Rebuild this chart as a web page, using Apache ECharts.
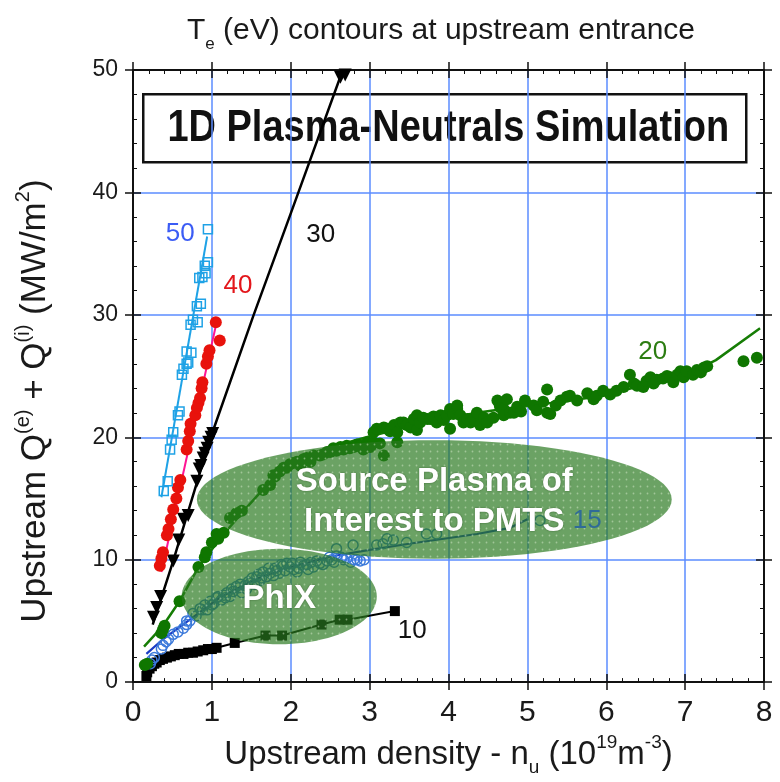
<!DOCTYPE html>
<html>
<head>
<meta charset="utf-8">
<title>Te contours at upstream entrance</title>
<script src="https://cdn.jsdelivr.net/npm/echarts@6/dist/echarts.min.js"></script>
<style>
  html, body { margin: 0; padding: 0; background: #ffffff; }
  #chart { width: 780px; height: 782px; }
</style>
</head>
<body>
<div id="chart"></div>
<script>
// Axis ticks
const xTickLabels = ['0', '1', '2', '3', '4', '5', '6', '7', '8'];
const yTickLabels = ['0', '10', '20', '30', '40', '50'];

// Te = 10 eV  [density, Q]
const te10 = [
  [0.17, 0.5], [0.18, 0.8], [0.21, 1.1], [0.24, 1.3], [0.27, 1.5], [0.30, 1.6], [0.34, 1.8],
  [0.38, 1.9], [0.43, 2.0], [0.48, 2.1], [0.53, 2.2], [0.58, 2.3], [0.64, 2.3], [0.70, 2.4],
  [0.76, 2.4], [0.82, 2.5], [0.89, 2.6], [0.95, 2.7], [1.00, 2.7], [1.06, 2.8], [1.29, 3.2],
  [1.68, 3.8], [1.89, 3.8], [2.39, 4.7], [2.62, 5.1], [2.72, 5.1], [3.32, 5.8]
];

// Te = 15 eV simulation points and fitted contour
const te15 = [
  [0.22, 1.5], [0.24, 1.8], [0.27, 2.0], [0.36, 2.7], [0.38, 3.0], [0.42, 3.3], [0.45, 3.5],
  [0.51, 3.9], [0.57, 4.1], [0.64, 4.4], [0.68, 4.7], [0.72, 5.0], [0.68, 5.0], [0.76, 5.6],
  [0.80, 5.4], [0.85, 6.0], [0.88, 5.9], [0.91, 6.3], [0.94, 5.9], [0.98, 6.6], [1.00, 6.3],
  [1.02, 6.4], [1.06, 6.9], [1.08, 7.0], [1.12, 6.7], [1.15, 7.1], [1.17, 6.9], [1.19, 7.3],
  [1.23, 7.0], [1.25, 7.6], [1.27, 7.4], [1.31, 7.8], [1.34, 7.7], [1.36, 8.0], [1.38, 7.3],
  [1.42, 7.9], [1.44, 7.6], [1.46, 8.2], [1.49, 8.1], [1.51, 8.5], [1.54, 8.0], [1.57, 8.6],
  [1.59, 8.8], [1.61, 8.3], [1.63, 8.5], [1.65, 9.0], [1.69, 8.6], [1.72, 9.3], [1.74, 8.9],
  [1.78, 8.7], [1.80, 9.3], [1.82, 9.1], [1.86, 8.9], [1.88, 9.6], [1.90, 9.5], [1.93, 9.1],
  [1.95, 9.7], [1.99, 9.4], [2.02, 9.7], [2.04, 9.2], [2.08, 9.0], [2.10, 9.3], [2.12, 9.8],
  [2.16, 9.5], [2.20, 9.6], [2.22, 9.2], [2.26, 9.8], [2.29, 9.4], [2.33, 9.9], [2.37, 9.7],
  [2.41, 9.6], [2.46, 9.9], [2.49, 10.2], [2.52, 10.0], [2.55, 9.8], [2.58, 10.3], [2.64, 10.2],
  [2.67, 10.0], [2.71, 10.1], [2.76, 9.8], [2.80, 10.0], [2.84, 10.0], [2.88, 9.9], [2.93, 10.0],
  [2.58, 10.9], [2.79, 11.2], [3.09, 11.2], [3.17, 11.3], [3.22, 11.7], [3.30, 11.6], [3.47, 11.4],
  [3.72, 12.1], [3.85, 12.1], [5.16, 13.2]
];
const te15Fit = [
  [0.17, 2.3], [0.38, 3.5], [0.72, 5.1], [1.10, 6.9], [1.55, 8.4], [2.00, 9.4], [2.54, 10.3],
  [3.00, 10.8], [3.50, 11.3], [4.36, 12.1], [4.78, 12.6], [5.00, 13.3]
];

// Te = 20 eV simulation points and fitted contour
const te20 = [
  [0.15, 1.4], [0.18, 1.5], [0.36, 4.0], [0.38, 4.3], [0.40, 4.6], [0.59, 6.6], [0.83, 9.4],
  [0.91, 10.2], [0.93, 10.6], [1.00, 11.4], [1.06, 12.1], [1.08, 11.7], [1.15, 12.2], [1.23, 13.4],
  [1.31, 13.8], [1.38, 14.0], [1.65, 15.7], [1.74, 16.1], [1.80, 16.8], [1.78, 16.9], [1.86, 17.2],
  [1.91, 17.5], [1.95, 17.5], [1.99, 17.8], [2.03, 17.9], [2.08, 18.0], [2.12, 17.7], [2.16, 18.2],
  [2.20, 18.3], [2.25, 18.0], [2.29, 18.5], [2.37, 18.5], [2.41, 18.6], [2.46, 18.8], [2.50, 18.8],
  [2.54, 19.1], [2.58, 18.9], [2.63, 19.2], [2.67, 19.0], [2.71, 19.3], [2.75, 19.1], [2.80, 19.2],
  [2.84, 19.4], [2.88, 19.3], [2.92, 19.0], [2.97, 19.6], [3.01, 19.2], [3.05, 19.6], [3.05, 20.4],
  [3.09, 20.7], [3.13, 19.5], [3.18, 18.5], [3.18, 20.8], [3.22, 20.7], [3.26, 20.5], [3.31, 21.0],
  [3.35, 19.6], [3.35, 20.4], [3.39, 21.2], [3.43, 21.2], [3.47, 21.0], [3.52, 20.8], [3.56, 21.5],
  [3.60, 20.6], [3.60, 21.8], [3.64, 21.2], [3.68, 21.6], [3.73, 21.5], [3.77, 21.5], [3.81, 21.7],
  [3.85, 21.2], [3.90, 21.8], [3.94, 21.4], [3.98, 21.8], [4.02, 20.7], [4.02, 22.3], [4.06, 21.9],
  [4.11, 22.3], [4.11, 22.6], [4.15, 21.8], [4.19, 21.2], [4.24, 21.5], [4.28, 21.2], [4.32, 21.5],
  [4.36, 22.0], [4.40, 21.0], [4.45, 21.6], [4.49, 21.2], [4.57, 21.6], [4.62, 23.0], [4.65, 22.6],
  [4.66, 22.4], [4.70, 22.3], [4.70, 21.8], [4.74, 23.1], [4.78, 22.0], [4.83, 22.0], [4.87, 22.5],
  [4.92, 22.1], [4.97, 23.0], [5.08, 22.6], [5.12, 22.2], [5.20, 22.9], [5.25, 23.9], [5.25, 22.0],
  [5.29, 21.9], [5.36, 22.6], [5.42, 23.0], [5.50, 23.3], [5.54, 23.4], [5.63, 23.0], [5.76, 23.6],
  [5.84, 23.1], [5.88, 23.4], [5.96, 23.8], [6.05, 23.5], [6.13, 23.8], [6.22, 24.1], [6.30, 25.1],
  [6.35, 24.4], [6.39, 24.2], [6.47, 24.1], [6.51, 24.6], [6.56, 24.9], [6.60, 24.4], [6.64, 24.7],
  [6.72, 24.8], [6.77, 25.0], [6.81, 24.9], [6.85, 24.5], [6.90, 25.1], [6.94, 25.4], [6.98, 24.9],
  [7.02, 25.4], [7.10, 25.1], [7.15, 25.5], [7.20, 25.3], [7.24, 25.7], [7.28, 25.8], [7.74, 26.2],
  [7.91, 26.5]
];
const te20Fit = [
  [0.14, 2.9], [0.38, 4.6], [0.59, 6.6], [0.83, 9.4], [1.15, 12.1], [1.46, 14.4], [1.74, 16.4],
  [2.06, 18.0], [2.46, 19.1], [2.96, 20.0], [3.56, 21.0], [4.36, 22.0], [4.70, 22.3], [5.30, 22.8],
  [5.97, 23.4], [6.50, 24.3], [7.05, 25.2], [7.39, 26.3], [7.95, 28.9]
];

// Te = 30 eV
const te30 = [
  [0.26, 5.3], [0.30, 6.1], [0.35, 7.0], [0.51, 9.9], [0.58, 11.6], [0.64, 13.3], [0.70, 13.6],
  [0.81, 16.4], [0.84, 17.4], [0.86, 17.7], [0.89, 18.3], [0.91, 18.7], [0.94, 19.1], [0.96, 19.6],
  [0.99, 20.0], [1.01, 20.3], [2.63, 49.4], [2.69, 49.6]
];
const te30Fit = [
  [0.25, 4.7], [0.51, 9.9], [0.98, 19.9], [1.53, 30.0], [1.99, 38.1], [2.66, 50.0]
];

// Te = 40 eV
const te40 = [
  [0.34, 9.5], [0.36, 10.1], [0.38, 10.6], [0.43, 12.0], [0.45, 12.5], [0.48, 13.3], [0.51, 14.1],
  [0.55, 15.0], [0.57, 15.9], [0.60, 16.5], [0.68, 19.0], [0.70, 19.7], [0.72, 20.5], [0.73, 21.1],
  [0.79, 21.8], [0.81, 22.4], [0.83, 22.8], [0.85, 23.2], [0.87, 24.0], [0.88, 24.5], [0.93, 26.0],
  [0.95, 26.6], [0.97, 27.1], [1.10, 27.9], [1.05, 29.4]
];
const te40Fit = [[0.36, 9.0], [1.06, 29.4]];

// Te = 50 eV
const te50 = [
  [0.39, 15.6], [0.44, 16.4], [0.47, 19.0], [0.49, 19.8], [0.51, 20.4], [0.57, 21.8], [0.59, 22.1],
  [0.62, 25.1], [0.64, 25.6], [0.68, 26.0], [0.70, 26.1], [0.68, 27.0], [0.74, 26.9], [0.73, 29.2],
  [0.76, 29.6], [0.82, 29.4], [0.81, 30.7], [0.86, 30.9], [0.84, 33.0], [0.88, 33.1], [0.92, 33.4],
  [0.91, 34.0], [0.95, 34.3], [0.95, 37.0]
];
const te50Fit = [[0.36, 15.1], [0.94, 36.4]];

// Contour labels: [density, Q, text]
const contourLabels = [
  [0.60, 36.6, '50'], [1.33, 32.4, '40'], [2.38, 36.5, '30'],
  [6.59, 27.0, '20'], [5.76, 13.2, '15'], [3.54, 4.2, '10']
];
const contourLabelColors = ['#3b5cf5', '#e3161b', '#111111', '#2c7d12', '#2f6b98', '#111111'];

// Highlighted regions: [centre density, centre Q, half-width, half-height]
const regions = [[3.82, 14.92, 3.01, 4.84], [1.854, 6.99, 1.237, 3.9]];
const regionNames = ['Source Plasma of\nInterest to PMTS', 'PhIX'];

const FONT = '"Liberation Sans", Arial, Helvetica, sans-serif';

// Dotted translucent green fill used inside the highlighted regions
function makeDotPattern() {
  const c = document.createElement('canvas');
  c.width = 7; c.height = 7;
  const g = c.getContext('2d');
  g.fillStyle = 'rgba(40,120,30,0.69)';
  g.fillRect(0, 0, 7, 7);
  g.fillStyle = 'rgba(215,235,205,0.5)';
  g.beginPath();
  g.arc(3.5, 3.5, 0.9, 0, Math.PI * 2);
  g.fill();
  return c;
}
const dotPattern = { image: makeDotPattern(), repeat: 'repeat' };

const chart = echarts.init(document.getElementById('chart'), null, { renderer: 'canvas' });

const axisLineStyle = { color: '#111', width: 2 };
const tickStyle = { color: '#111', width: 1.5 };

function xAxisDef(position, inner, extra) {
  return Object.assign({
    type: 'value', min: 0, max: 8, interval: 1, position: position,
    axisLine: { show: inner, onZero: false, lineStyle: axisLineStyle },
    axisTick: { show: true, inside: inner, length: 8, lineStyle: tickStyle },
    minorTick: { show: inner, splitNumber: 5, length: 4, lineStyle: { color: '#111', width: 1 } },
    axisLabel: { show: false },
    splitLine: { show: false }
  }, extra || {});
}
function yAxisDef(position, inner, extra) {
  return Object.assign({
    type: 'value', min: 0, max: 50, interval: 10, position: position,
    axisLine: { show: inner, onZero: false, lineStyle: axisLineStyle },
    axisTick: { show: true, inside: inner, length: 8, lineStyle: tickStyle },
    minorTick: { show: inner, splitNumber: 5, length: 4, lineStyle: { color: '#111', width: 1 } },
    axisLabel: { show: false },
    splitLine: { show: false }
  }, extra || {});
}

const option = {
  animation: false,
  backgroundColor: '#ffffff',
  title: {
    text: 'T{sub|e} (eV) contours at upstream entrance',
    left: 182, top: 4,
    textStyle: {
      fontFamily: FONT, fontSize: 30, fontWeight: 'normal', color: '#1a1a1a', lineHeight: 44,
      rich: {
        sub: { fontFamily: FONT, fontSize: 17, color: '#1a1a1a', lineHeight: 16, verticalAlign: 'bottom' }
      }
    }
  },
  grid: { left: 133, right: 16, top: 70, bottom: 92, containLabel: false },
  xAxis: [
    xAxisDef('bottom', true, {
      splitLine: { show: true, lineStyle: { color: '#5b8cff', width: 1.5 } },
      axisLabel: {
        show: true, fontFamily: FONT, fontSize: 30, color: '#1a1a1a', margin: 16,
        formatter: v => xTickLabels[Math.round(v)]
      },
      name: 'Upstream density - n{sub|u} (10{sup|19}m{sup|-3})',
      nameLocation: 'middle', nameGap: 44,
      nameTextStyle: {
        fontFamily: FONT, fontSize: 33, color: '#1a1a1a', lineHeight: 44,
        rich: {
          sub: { fontFamily: FONT, fontSize: 19, color: '#1a1a1a', lineHeight: 16, verticalAlign: 'bottom' },
          sup: { fontFamily: FONT, fontSize: 19, color: '#1a1a1a', lineHeight: 18, verticalAlign: 'top' }
        }
      }
    }),
    xAxisDef('bottom', false),
    xAxisDef('top', true),
    xAxisDef('top', false)
  ],
  yAxis: [
    yAxisDef('left', true, {
      splitLine: { show: true, lineStyle: { color: '#5b8cff', width: 1.5 } },
      axisLabel: {
        show: true, fontFamily: FONT, fontSize: 23, color: '#1a1a1a', margin: 15,
        formatter: v => yTickLabels[Math.round(v / 10)]
      },
      name: 'Upstream Q{sup|(e)} + Q{sup|(i)} (MW/m{sup|2})',
      nameLocation: 'middle', nameGap: 76,
      nameTextStyle: {
        fontFamily: FONT, fontSize: 35, color: '#1a1a1a', lineHeight: 44,
        padding: [0, 50, 0, 0],
        rich: {
          sup: { fontFamily: FONT, fontSize: 20, color: '#1a1a1a', lineHeight: 18, verticalAlign: 'top' }
        }
      }
    }),
    yAxisDef('left', false),
    yAxisDef('right', true),
    yAxisDef('right', false)
  ],
  graphic: [{
    type: 'group', left: 142, top: 93, z: 100,
    children: [
      { type: 'rect', shape: { x: 0, y: 0, width: 603, height: 68 },
        style: { fill: '#ffffff', stroke: '#111111', lineWidth: 2.5 } },
      { type: 'text', x: 305, y: 35, scaleY: 1.15,
        style: { text: '1D Plasma-Neutrals Simulation', fill: '#111111',
                 font: 'bold 38px ' + FONT, align: 'center', verticalAlign: 'middle' } }
    ]
  }],
  series: [
    { name: '10 eV', type: 'line', data: te10, symbol: 'rect', symbolSize: 10, showAllSymbol: true,
      itemStyle: { color: '#000', opacity: 1 }, lineStyle: { color: '#000', width: 2 }, z: 3 },

    { name: '15 eV fit', type: 'line', data: te15Fit, showSymbol: false,
      lineStyle: { color: '#1a3cc4', width: 2.2 }, z: 3 },
    { name: '15 eV', type: 'scatter', data: te15, symbol: 'circle', symbolSize: 10,
      itemStyle: { color: 'rgba(0,0,0,0)', borderColor: '#3b79da', borderWidth: 1.5, opacity: 1 }, z: 4 },

    { name: '20 eV fit', type: 'line', data: te20Fit, showSymbol: false,
      lineStyle: { color: '#167d05', width: 2.5 }, z: 3 },
    { name: '20 eV', type: 'scatter', data: te20, symbol: 'circle', symbolSize: 12,
      itemStyle: { color: '#0f7600', opacity: 1 }, z: 4 },

    { name: '30 eV fit', type: 'line', data: te30Fit, showSymbol: false,
      lineStyle: { color: '#000', width: 2.5 }, z: 3 },
    { name: '30 eV', type: 'scatter', data: te30, symbol: 'triangle', symbolRotate: 180, symbolSize: 13,
      itemStyle: { color: '#000', opacity: 1 }, z: 4 },

    { name: '40 eV fit', type: 'line', data: te40Fit, showSymbol: false,
      lineStyle: { color: '#ff1493', width: 2 }, z: 3 },
    { name: '40 eV', type: 'scatter', data: te40, symbol: 'circle', symbolSize: 12,
      itemStyle: { color: '#e8120c', opacity: 1 }, z: 4 },

    { name: '50 eV fit', type: 'line', data: te50Fit, showSymbol: false,
      lineStyle: { color: '#1fa2e6', width: 2 }, z: 3 },
    { name: '50 eV', type: 'scatter', data: te50, symbol: 'rect', symbolSize: 9,
      itemStyle: { color: 'rgba(0,0,0,0)', borderColor: '#1fa2e6', borderWidth: 1.5, opacity: 1 }, z: 4 },

    { name: 'regions', type: 'custom', z: 6, silent: true,
      data: regions,
      renderItem: function (params, api) {
        const cx = api.value(0), cy = api.value(1), rx = api.value(2), ry = api.value(3);
        const pts = [];
        for (let i = 0; i < 96; i++) {
          const t = i / 96 * Math.PI * 2;
          pts.push(api.coord([cx + rx * Math.cos(t), cy + ry * Math.sin(t)]));
        }
        const c = api.coord([cx, cy]);
        return {
          type: 'group',
          children: [
            { type: 'polygon', shape: { points: pts }, style: { fill: dotPattern } },
            { type: 'text', x: c[0], y: c[1] + 2,
              style: { text: regionNames[params.dataIndex], fill: '#ffffff',
                       font: 'bold 33px ' + FONT, fontSize: 33, fontWeight: 'bold', fontFamily: FONT,
                       align: 'center', verticalAlign: 'middle', textAlign: 'center', textVerticalAlign: 'middle',
                       lineHeight: 40,
                       textShadowColor: 'rgba(20,50,10,0.55)', textShadowBlur: 2 } }
          ]
        };
      }
    },

    { name: 'contour labels', type: 'scatter', z: 7, silent: true,
      data: contourLabels.map((d, i) => ({
        value: [d[0], d[1]], name: d[2],
        label: { color: contourLabelColors[i] }
      })),
      symbolSize: 1, itemStyle: { color: 'rgba(0,0,0,0)', opacity: 1 },
      label: { show: true, position: 'inside', formatter: '{b}', fontFamily: FONT, fontSize: 26 }
    }
  ]
};

chart.setOption(option);
</script>
</body>
</html>
